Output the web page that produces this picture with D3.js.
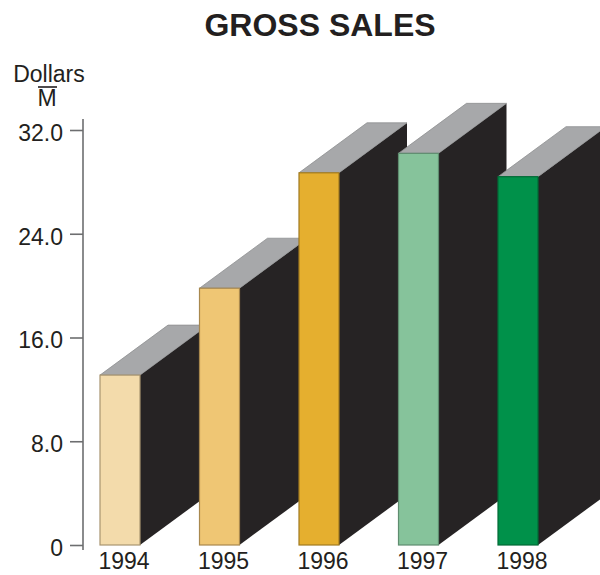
<!DOCTYPE html>
<html>
<head>
<meta charset="utf-8">
<script src="https://cdn.jsdelivr.net/npm/d3@7"></script>
<style>
  html, body { margin: 0; padding: 0; background: #fff; }
  svg { display: block; font-family: "Liberation Sans", Arial, sans-serif; }
</style>
</head>
<body>
<svg id="chart" width="600" height="575"></svg>
<script>
// Gross sales per year, in millions of dollars
const years = ["1994", "1995", "1996", "1997", "1998"];
const sales = [13.1, 19.8, 28.7, 30.2, 28.4];
const frontColors = ["#f3dbab", "#efc674", "#e5af2f", "#86c39b", "#00914a"];
const frontStrokes = ["#a89470", "#a8884e", "#a07a20", "#5f8d70", "#006a36"];
const yTicks = [0, 8, 16, 24, 32];
const yTickLabels = ["0", "8.0", "16.0", "24.0", "32.0"];

const svg = d3.select("#chart");

const y = d3.scaleLinear().domain([0, 32]).range([545, 130]);
const x = d3.scaleBand().domain(years).range([100, 538])
  .paddingInner(0.598).paddingOuter(0);
const bw = x.bandwidth();

// oblique depth of each block
const dx = 68, dy = -50;

// title
svg.append("text")
  .attr("x", 320).attr("y", 36)
  .attr("text-anchor", "middle")
  .attr("font-size", 32).attr("font-weight", "bold")
  .attr("fill", "#231f20")
  .text("GROSS SALES");

// unit label: Dollars, M with overline
svg.append("text")
  .attr("x", 49).attr("y", 82)
  .attr("text-anchor", "middle")
  .attr("font-size", 23).attr("fill", "#231f20")
  .text("Dollars");
svg.append("text")
  .attr("x", 47).attr("y", 106)
  .attr("text-anchor", "middle")
  .attr("font-size", 23).attr("fill", "#231f20")
  .text("M");
svg.append("line")
  .attr("x1", 38).attr("x2", 57)
  .attr("y1", 87).attr("y2", 87)
  .attr("stroke", "#231f20").attr("stroke-width", 1.6);

// y axis
const yAxis = d3.axisLeft(y)
  .tickValues(yTicks)
  .tickFormat((d, i) => yTickLabels[i])
  .tickSize(13)
  .tickPadding(7)
  .tickSizeOuter(0);

const gy = svg.append("g")
  .attr("transform", "translate(83,0)")
  .call(yAxis);
gy.select(".domain").remove();
gy.append("line")
  .attr("x1", 0).attr("x2", 0)
  .attr("y1", 119).attr("y2", 550)
  .attr("stroke", "#6d6e70").attr("stroke-width", 1.6);
gy.selectAll(".tick line").attr("stroke", "#6d6e70").attr("stroke-width", 1.6);
gy.selectAll(".tick text")
  .attr("font-size", 23)
  .attr("dy", "0.45em")
  .attr("fill", "#231f20")
  .attr("font-family", "'Liberation Sans', Arial, sans-serif");

// 3D blocks, drawn left to right so each one covers the previous side face
const data = years.map((yr, i) => ({ year: yr, value: sales[i], i }));
const bars = svg.append("g").selectAll("g.bar")
  .data(data).join("g").attr("class", "bar");

bars.append("path")
  .attr("fill", "#262324")
  .attr("d", d => {
    const x0 = x(d.year) + bw, yt = y(d.value), yb = y(0);
    return `M${x0},${yt} L${x0 + dx},${yt + dy} L${x0 + dx},${yb + dy} L${x0},${yb} Z`;
  });

bars.append("path")
  .attr("fill", "#a7a8aa")
  .attr("stroke", "#8e8f91").attr("stroke-width", 0.8)
  .attr("d", d => {
    const x0 = x(d.year), yt = y(d.value);
    return `M${x0},${yt} L${x0 + dx},${yt + dy} L${x0 + bw + dx},${yt + dy} L${x0 + bw},${yt} Z`;
  });

bars.append("rect")
  .attr("x", d => x(d.year))
  .attr("y", d => y(d.value))
  .attr("width", bw)
  .attr("height", d => y(0) - y(d.value))
  .attr("fill", d => frontColors[d.i])
  .attr("stroke", d => frontStrokes[d.i])
  .attr("stroke-width", 1.2);

// year labels
svg.append("g").selectAll("text")
  .data(years).join("text")
  .attr("x", d => x(d) + bw / 2 + 4)
  .attr("y", 569)
  .attr("text-anchor", "middle")
  .attr("font-size", 23)
  .attr("fill", "#231f20")
  .text(d => d);
</script>
</body>
</html>
